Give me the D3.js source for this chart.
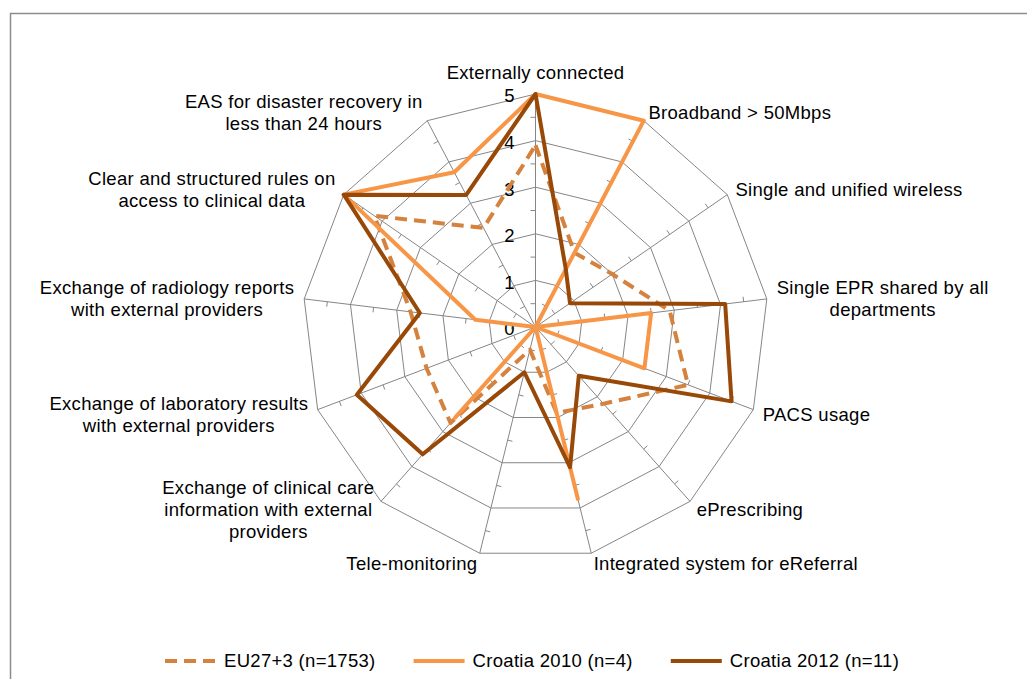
<!DOCTYPE html>
<html><head><meta charset="utf-8">
<script src="https://cdn.jsdelivr.net/npm/d3@7"></script>
<style>
body{margin:0;background:#fff}
svg{display:block}
text{font-family:"Liberation Sans",Arial,sans-serif;fill:#000}
</style>
</head><body>
<svg id="chart" width="1027" height="679"></svg>
<script>
// ---- data ----
const categories = [
  ["Externally connected"],
  ["Broadband > 50Mbps"],
  ["Single and unified wireless"],
  ["Single EPR shared by all", "departments"],
  ["PACS usage"],
  ["ePrescribing"],
  ["Integrated system for eReferral"],
  ["Tele-monitoring"],
  ["Exchange of clinical care", "information with external", "providers"],
  ["Exchange of laboratory results", "with external providers"],
  ["Exchange of radiology reports", "with external providers"],
  ["Clear and structured rules on", "access to clinical data"],
  ["EAS for disaster recovery in", "less than 24 hours"]
];
const seriesNames = ["EU27+3 (n=1753)", "Croatia 2010 (n=4)", "Croatia 2012 (n=11)"];
const euValues      = [3.9, 1.8, 2.0, 2.9, 3.5, 2.2, 1.9, 0.5, 2.75, 2.5, 2.7, 4.2, 2.4];
const croatia2010   = [5, 5, 0, 2.5, 2.5, 0, 3.8, 0, 2.6, 0, 1.3, 5, 3.75];
const croatia2012   = [5, 1.4, 0.9, 4.1, 4.5, 1.4, 3.1, 1.0, 3.65, 4.1, 2.5, 5, 3.2];
const tickValues    = [0, 1, 2, 3, 4, 5];
const minorTicks    = [0.5, 1.5, 2.5, 3.5, 4.5];

// ---- layout ----
const svg = d3.select("#chart");
const cx = 535.5, cy = 327, R = 233;
const N = categories.length;
const angle = d3.scaleLinear().domain([0, N]).range([0, 2 * Math.PI]);
const r = d3.scaleLinear().domain([0, 5]).range([0, R]);
const gridColor = "#868686";
const fontSize = "18.5px", letterSp = "0.3px";

svg.append("rect").attr("x", 10.5).attr("y", 13.5).attr("width", 1040).attr("height", 700)
  .attr("fill", "#fff").attr("stroke", "#8c8c8c").attr("stroke-width", 1.5);

const g = svg.append("g").attr("transform", `translate(${cx},${cy})`);

function xy(i, v) { const a = angle(i); return [r(v) * Math.sin(a), -r(v) * Math.cos(a)]; }

// grid polygons
const gridLine = d3.lineRadial().angle((d, i) => angle(i)).radius(d => r(d)).curve(d3.curveLinearClosed);
tickValues.filter(v => v > 0).forEach(v => {
  g.append("path").attr("d", gridLine(categories.map(() => v)))
    .attr("fill", "none").attr("stroke", gridColor).attr("stroke-width", 1);
});
// spokes + minor ticks
categories.forEach((c, i) => {
  const [x, y] = xy(i, 5);
  g.append("line").attr("x1", 0).attr("y1", 0).attr("x2", x).attr("y2", y)
    .attr("stroke", gridColor).attr("stroke-width", 1);
  minorTicks.forEach(v => {
    const [px, py] = xy(i, v);
    const a = angle(i);
    const tx = -Math.cos(a), ty = -Math.sin(a);
    g.append("line").attr("x1", px).attr("y1", py).attr("x2", px + tx * 5).attr("y2", py + ty * 5)
      .attr("stroke", gridColor).attr("stroke-width", 1);
  });
});

// tick labels
tickValues.forEach(v => {
  g.append("text").attr("x", -21).attr("y", -r(v) + 2).attr("dy", "0.35em")
    .attr("text-anchor", "end").style("font-size", fontSize).text(v);
});

// series
const series = [
  { name: seriesNames[0], values: euValues, color: "#D4823E", dash: "12,7" },
  { name: seriesNames[1], values: croatia2010, color: "#F79646", dash: null },
  { name: seriesNames[2], values: croatia2012, color: "#984807", dash: null }
];
const line = d3.lineRadial().angle((d, i) => angle(i)).radius(d => r(d)).curve(d3.curveLinearClosed);
series.forEach(s => {
  g.append("path").attr("d", line(s.values)).attr("fill", "none")
    .attr("stroke", s.color).attr("stroke-width", 4)
    .attr("stroke-linejoin", "round")
    .attr("stroke-dasharray", s.dash);
});

// category labels
const lh = 22;
categories.forEach((lines, i) => {
  const a = angle(i);
  const s = Math.sin(a), c = Math.cos(a);
  const px = (R + 10) * s, py = -(R + 10) * c;
  const t = g.append("text").attr("text-anchor", "middle")
    .style("font-size", fontSize).style("letter-spacing", letterSp);
  lines.forEach((ln, k) => {
    t.append("tspan").attr("x", 0).attr("dy", k === 0 ? 0 : lh).text(ln);
  });
  const w = t.node().getBBox().width;
  const h = lines.length * lh;
  let x;
  if (s > 0.1) x = px + w / 2; else if (s < -0.1) x = px - w / 2; else x = px;
  let ccy = Math.abs(s) > 0.1 ? py + 1.5 : py - h / 2;
  const firstBase = ccy - h / 2 + lh / 2 + 6;
  t.attr("transform", `translate(${x},${firstBase})`);
});

// legend
const legY = 661;
let lx = 165;
series.forEach((s, i) => {
  svg.append("line").attr("x1", lx).attr("x2", lx + 51).attr("y1", legY).attr("y2", legY)
    .attr("stroke", s.color).attr("stroke-width", 4).attr("stroke-dasharray", s.dash);
  const t = svg.append("text").attr("x", lx + 59).attr("y", legY).attr("dy", "0.35em")
    .style("font-size", fontSize).style("letter-spacing", letterSp).text(s.name);
  const w = t.node().getBBox().width;
  lx = lx + 59 + w + 38;
});
</script>
</body></html>
